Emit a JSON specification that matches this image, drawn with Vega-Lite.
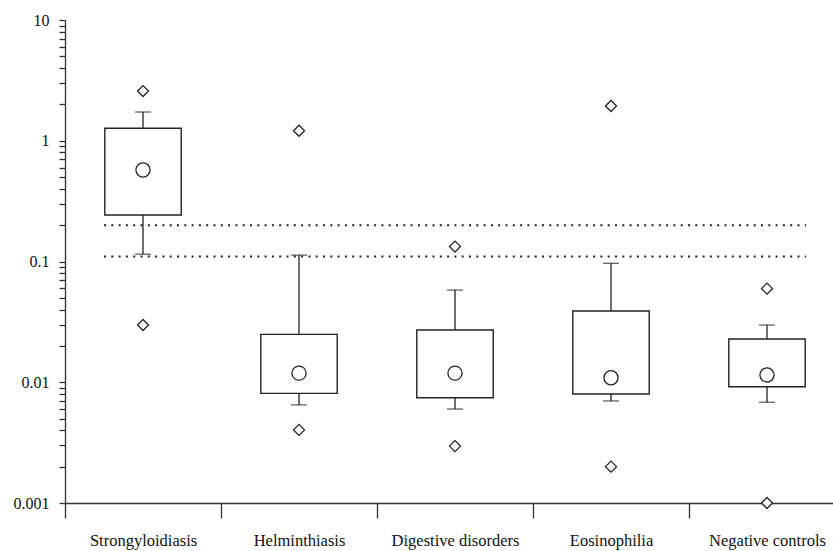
{
  "$schema": "https://vega.github.io/schema/vega-lite/v6.json",
  "autosize": {"type": "none"},
  "padding": {"left": 65, "top": 20, "right": 0, "bottom": 48},
  "width": 768,
  "height": 483,
  "background": "white",
  "config": {
    "view": {"stroke": null},
    "font": "Liberation Serif",
    "axis": {"labelFont": "Liberation Serif", "labelColor": "#111", "domainColor": "#333", "tickColor": "#333", "domainWidth": 1.3, "tickWidth": 1.3, "grid": false, "title": null},
    "axisX": {"labelFont": "Liberation Serif", "labelAngle": 0, "tickBand": "extent", "tickSize": 15, "labelPadding": 14, "labelFontSize": 16.5},
    "axisY": {"labelFont": "Liberation Serif", "tickSize": 6, "labelPadding": 10, "labelFontSize": 16, "labelOverlap": false}
  },
  "datasets": {
    "stats": [
      {"cat": "Strongyloidiasis", "min": 0.0298, "lw": 0.115, "q1": 0.243, "mean": 0.573, "q3": 1.27, "uw": 1.73, "max": 2.58},
      {"cat": "Helminthiasis", "min": 0.00403, "lw": 0.00649, "q1": 0.00809, "mean": 0.0119, "q3": 0.0249, "uw": 0.113, "max": 1.21},
      {"cat": "Digestive disorders", "min": 0.00296, "lw": 0.0060, "q1": 0.00745, "mean": 0.0119, "q3": 0.0271, "uw": 0.058, "max": 0.133},
      {"cat": "Eosinophilia", "min": 0.0020, "lw": 0.0070, "q1": 0.0080, "mean": 0.0109, "q3": 0.0389, "uw": 0.0966, "max": 1.94},
      {"cat": "Negative controls", "min": 0.001, "lw": 0.00683, "q1": 0.00918, "mean": 0.0115, "q3": 0.0228, "uw": 0.0298, "max": 0.0596}
    ],
    "cutoffs": [
      {"v": 0.2, "a": "Strongyloidiasis", "b": "Negative controls"},
      {"v": 0.11, "a": "Strongyloidiasis", "b": "Negative controls"}
    ]
  },
  "encoding": {
    "x": {
      "field": "cat", "type": "nominal", "sort": null,
      "scale": {"domain": ["Strongyloidiasis", "Helminthiasis", "Digestive disorders", "Eosinophilia", "Negative controls"], "range": [0, 780], "paddingInner": 0, "paddingOuter": 0},
      "axis": {"labelFont": "Liberation Serif", "labelAngle": 0, "tickBand": "extent", "tickSize": 15, "labelPadding": 14, "labelFontSize": 16.5, "title": null}
    }
  },
  "layer": [
    {
      "data": {"name": "stats"},
      "mark": {"type": "rule", "color": "#222", "strokeWidth": 1.3},
      "encoding": {
        "y": {"field": "lw", "type": "quantitative",
          "scale": {"type": "log", "domain": [0.001, 10], "nice": false},
          "axis": {
            "values": [0.001,0.002,0.003,0.004,0.005,0.006,0.007,0.008,0.009,0.01,0.02,0.03,0.04,0.05,0.06,0.07,0.08,0.09,0.1,0.2,0.3,0.4,0.5,0.6,0.7,0.8,0.9,1,2,3,4,5,6,7,8,9,10],
            "labelExpr": "(datum.value==0.001||datum.value==0.01||datum.value==0.1||datum.value==1||datum.value==10) ? format(datum.value,'~g') : ''",
            "labelFont": "Liberation Serif",
            "tickSize": 6, "labelPadding": 10, "labelFontSize": 16, "title": null, "labelOverlap": false
          }},
        "y2": {"field": "uw"}
      }
    },
    {
      "data": {"name": "stats"},
      "mark": {"type": "tick", "color": "#222", "size": 16, "thickness": 1.3},
      "encoding": {"y": {"field": "lw", "type": "quantitative"}}
    },
    {
      "data": {"name": "stats"},
      "mark": {"type": "tick", "color": "#222", "size": 16, "thickness": 1.3},
      "encoding": {"y": {"field": "uw", "type": "quantitative"}}
    },
    {
      "data": {"name": "stats"},
      "mark": {"type": "bar", "fill": "white", "stroke": "#222", "strokeWidth": 1.4, "width": {"band": 0.49}},
      "encoding": {"y": {"field": "q1", "type": "quantitative"}, "y2": {"field": "q3"}}
    },
    {
      "data": {"name": "stats"},
      "mark": {"type": "point", "shape": "circle", "size": 200, "fill": "white", "filled": true, "stroke": "#222", "strokeWidth": 1.3, "opacity": 1},
      "encoding": {"y": {"field": "mean", "type": "quantitative"}}
    },
    {
      "data": {"name": "stats"},
      "mark": {"type": "point", "shape": "diamond", "size": 121, "fill": "white", "filled": true, "stroke": "#222", "strokeWidth": 1.3, "opacity": 1, "clip": false},
      "encoding": {"y": {"field": "max", "type": "quantitative"}}
    },
    {
      "data": {"name": "stats"},
      "mark": {"type": "point", "shape": "diamond", "size": 121, "fill": "white", "filled": true, "stroke": "#222", "strokeWidth": 1.3, "opacity": 1, "clip": false},
      "encoding": {"y": {"field": "min", "type": "quantitative"}}
    },
    {
      "data": {"name": "cutoffs"},
      "mark": {"type": "rule", "color": "#222", "strokeWidth": 2, "strokeDash": [2, 5.3]},
      "encoding": {
        "x": {"field": "a", "type": "nominal", "bandPosition": 0.25},
        "x2": {"field": "b", "bandPosition": 0.75},
        "y": {"field": "v", "type": "quantitative"}
      }
    }
  ]
}
